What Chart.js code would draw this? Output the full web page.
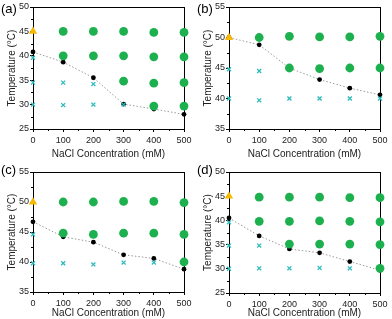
<!DOCTYPE html>
<html>
<head>
<meta charset="utf-8">
<script src="https://cdn.jsdelivr.net/npm/chart.js@4.4.1/dist/chart.umd.min.js"></script>
<style>
  html, body { margin: 0; padding: 0; background: #fff; }
  #wrap { position: relative; width: 392px; height: 319px; }
  canvas { position: absolute; }
</style>
</head>
<body>
<div id="wrap">
  <canvas id="cA" width="196" height="160" style="left:0;top:0"></canvas>
  <canvas id="cB" width="196" height="160" style="left:196px;top:0"></canvas>
  <canvas id="cC" width="196" height="159" style="left:0;top:160px"></canvas>
  <canvas id="cD" width="196" height="159" style="left:196px;top:160px"></canvas>
</div>
<script>
// ---- data ----
const conc = [0, 100, 200, 300, 400, 500];            // NaCl (mM)
const xTicks = [0, 100, 200, 300, 400, 500];
const xMinor = [50, 150, 250, 350, 450];

// (a)
const onsetA = [40.8, 38.7, 35.5, 30.1, 29.1, 28.0];
const turbidA = [[100,45],[200,45],[300,45],[400,44.8],[500,44.8],
                 [100,40],[200,40],[300,40],[400,39.8],[500,39.8],
                 [300,34.8],[400,34.4],[500,34.5],[400,29.7],[500,29.7]];
const clearA = [[0,39.6],[0,34.5],[100,34.5],[200,34.2],[0,30],[100,29.9],[200,30],[300,30]];
const gelA = [[0,45]];
const yTicksA = [25, 30, 35, 40, 45, 50];

// (b)
const onsetB = [50, 48.8, 45.0, 43.1, 41.7, 40.6];
const turbidB = [[100,50],[200,50.2],[300,50.1],[400,50.1],[500,50.2],
                 [200,45],[300,44.9],[400,45],[500,45]];
const clearB = [[0,44.8],[100,44.5],[0,40],[100,39.7],[200,40],[300,40],[400,40],[500,40]];
const gelB = [[0,50]];
const yTicksB = [35, 40, 45, 50, 55];

// (c)
const onsetC = [46.7, 44.2, 43.3, 41.2, 40.6, 38.8];
const turbidC = [[100,50],[200,50],[300,50.1],[400,50.1],[500,49.9],
                 [100,44.8],[200,44.6],[300,44.8],[400,44.8],[500,44.6],[500,40]];
const clearC = [[0,44.6],[0,39.8],[100,39.8],[200,39.6],[300,39.9],[400,39.9]];
const gelC = [[0,50]];
const yTicksC = [35, 40, 45, 50, 55];

// (d)
const onsetD = [40.5, 36.8, 34.1, 33.3, 31.5, 29.7];
const turbidD = [[100,44.8],[200,44.8],[300,44.8],[400,44.7],[500,44.7],
                 [100,39.8],[200,39.8],[300,39.9],[400,39.8],[500,39.7],
                 [200,35.1],[300,35.1],[400,35.1],[500,35],[500,30.1]];
const clearD = [[0,39.6],[0,34.8],[100,34.8],[0,30],[100,30.1],[200,30.1],[300,30.2],[400,30.1]];
const gelD = [[0,45]];
const yTicksD = [25, 30, 35, 40, 45, 50];

const GREEN = '#1db04f';
const CYAN = '#2cbcbc';
const YELLOW = '#f7b900';
const FONT = 'Liberation Sans, Arial, sans-serif';

const toXY = arr => arr.map(p => ({ x: p[0], y: p[1] }));

// frame, minor ticks + panel letter
const framePlugin = {
    id: 'frame',
    beforeDatasetsDraw(chart) {
        const a = chart.chartArea, c = chart.ctx;
        const o = chart.options.plugins.frame;
        c.save();
        c.strokeStyle = '#000';
        c.lineWidth = 1;
        c.strokeRect(a.left + 0.5, a.top + 0.5, a.right - a.left, a.bottom - a.top);
        // minor ticks
        c.beginPath();
        xMinor.forEach(v => {
            const px = Math.round(chart.scales.x.getPixelForValue(v)) + 0.5;
            c.moveTo(px, a.bottom); c.lineTo(px, a.bottom + 2);
        });
        o.yMinor.forEach(v => {
            const py = Math.round(chart.scales.y.getPixelForValue(v)) + 0.5;
            c.moveTo(a.left, py); c.lineTo(a.left - 2, py);
        });
        c.stroke();
        c.restore();
    },
    afterDraw(chart) {
        const o = chart.options.plugins.frame;
        const c = chart.ctx;
        c.save();
        c.fillStyle = '#000';
        c.font = '13px ' + FONT;
        c.textBaseline = 'alphabetic';
        c.fillText(o.letter, 1, o.letterY);
        c.restore();
    }
};

function makePanel(id, p) {
    const yMinor = p.yTicks.slice(0, -1).map(v => v + 2.5);
    new Chart(document.getElementById(id), {
        type: 'scatter',
        data: {
            datasets: [
                { data: toXY(p.gel), pointStyle: 'triangle', pointRadius: 4.8,
                  backgroundColor: YELLOW, borderColor: YELLOW, borderWidth: 0 },
                { data: toXY(p.clear), pointStyle: 'crossRot', pointRadius: 2.8,
                  borderColor: CYAN, borderWidth: 1.3 },
                { data: toXY(p.turbid), pointStyle: 'circle', pointRadius: 4.4,
                  backgroundColor: GREEN, borderWidth: 0 },
                { data: conc.map((x, i) => ({ x: x, y: p.onset[i] })), showLine: true,
                  borderColor: '#9a9a9a', borderWidth: 1, borderDash: [1.5, 2],
                  pointRadius: 2.4, pointBackgroundColor: '#000', pointBorderWidth: 0 }
            ]
        },
        options: {
            responsive: false,
            animation: false,
            clip: false,
            layout: { padding: { left: 0, right: 12, top: p.top, bottom: 0 } },
            plugins: {
                legend: { display: false },
                tooltip: { enabled: false },
                frame: { letter: p.letter, letterY: p.letterY, yMinor: yMinor }
            },
            scales: {
                x: {
                    type: 'linear', min: 0, max: 500,
                    afterBuildTicks: s => { s.ticks = xTicks.map(v => ({ value: v })); },
                    grid: { drawOnChartArea: false, tickLength: 3, color: '#000' },
                    border: { color: '#000' },
                    ticks: { color: '#222', font: { family: FONT, size: 9 }, padding: 3, maxRotation: 0 },
                    title: { display: true, text: 'NaCl Concentration (mM)', color: '#222',
                             font: { family: FONT, size: 10 }, padding: { top: 3, bottom: 0 } },
                    afterFit: s => { s.height = p.bottom; }
                },
                y: {
                    type: 'linear', min: p.yTicks[0], max: p.yTicks[p.yTicks.length - 1],
                    afterBuildTicks: s => { s.ticks = p.yTicks.map(v => ({ value: v })); },
                    grid: { drawOnChartArea: false, tickLength: 3, color: '#000' },
                    border: { color: '#000' },
                    ticks: { color: '#222', font: { family: FONT, size: 9 }, padding: 1 },
                    title: { display: true, text: 'Temperature (°C)', color: '#222',
                             font: { family: FONT, size: 10 }, padding: { top: 6, bottom: 0 } },
                    afterFit: s => { s.width = 33; }
                }
            }
        },
        plugins: [framePlugin]
    });
}

makePanel('cA', { onset: onsetA, turbid: turbidA, clear: clearA, gel: gelA, yTicks: yTicksA,
                  letter: '(a)', letterY: 13, top: 7, bottom: 31 });
makePanel('cB', { onset: onsetB, turbid: turbidB, clear: clearB, gel: gelB, yTicks: yTicksB,
                  letter: '(b)', letterY: 13, top: 7, bottom: 31 });
makePanel('cC', { onset: onsetC, turbid: turbidC, clear: clearC, gel: gelC, yTicks: yTicksC,
                  letter: '(c)', letterY: 14, top: 12, bottom: 27 });
makePanel('cD', { onset: onsetD, turbid: turbidD, clear: clearD, gel: gelD, yTicks: yTicksD,
                  letter: '(d)', letterY: 14, top: 12, bottom: 26 });
</script>
</body>
</html>
